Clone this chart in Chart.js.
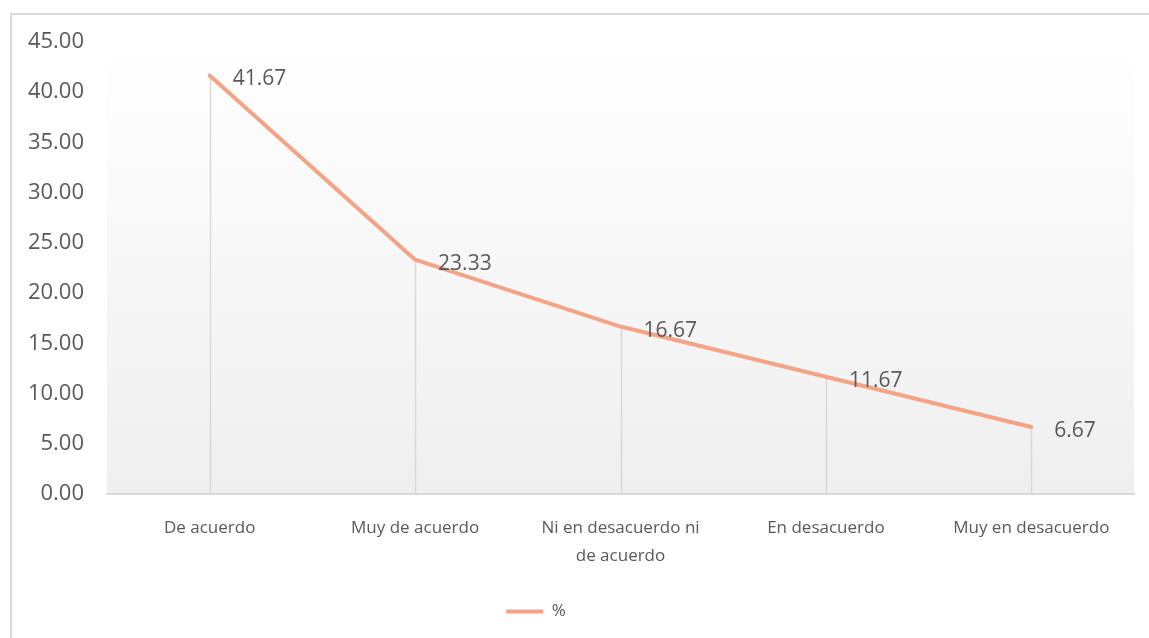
<!DOCTYPE html>
<html>
<head>
<meta charset="utf-8">
<script src="https://cdn.jsdelivr.net/npm/chart.js@4.4.1/dist/chart.umd.min.js"></script>
<style>
  html, body { margin:0; padding:0; background:#fff; overflow:hidden; }
  #frame { position:absolute; left:10px; top:13px; width:1400px; height:900px; border:2px solid #d9d9d9; box-sizing:border-box; }
  #wrap { position:absolute; left:0; top:0; width:1149px; height:638px; }
</style>
</head>
<body>
<div id="frame"></div>
<div id="wrap"><canvas id="c" width="1149" height="638"></canvas></div>
<script>
const categories = ["De acuerdo", "Muy de acuerdo", ["Ni en desacuerdo ni", "de acuerdo"], "En desacuerdo", "Muy en desacuerdo"];
const seriesName = "%";
const values = [41.67, 23.33, 16.67, 11.67, 6.67];
const yMin = 0, yMax = 45, yStep = 5;

const TEXT = '#595959';
const LINE = '#F3A486';
const FONT = "'Open Sans', 'DejaVu Sans', sans-serif";

const bgPlugin = {
  id: 'plotBg',
  beforeDraw(chart) {
    const a = chart.chartArea, ctx = chart.ctx;
    const g = ctx.createLinearGradient(0, a.top, 0, a.bottom);
    g.addColorStop(0, '#ffffff');
    g.addColorStop(1, '#efefef');
    ctx.save();
    ctx.fillStyle = g;
    ctx.fillRect(a.left, a.top, a.right - a.left, a.bottom - a.top);
    ctx.restore();
  }
};

const dropPlugin = {
  id: 'dropLines',
  beforeDatasetsDraw(chart) {
    const meta = chart.getDatasetMeta(0), ctx = chart.ctx, a = chart.chartArea;
    ctx.save();
    ctx.strokeStyle = '#d9d9d9';
    ctx.lineWidth = 1.5;
    meta.data.forEach(p => {
      ctx.beginPath();
      ctx.moveTo(Math.round(p.x) + 0.5, p.y);
      ctx.lineTo(Math.round(p.x) + 0.5, a.bottom);
      ctx.stroke();
    });
    ctx.restore();
  }
};

const labelPlugin = {
  id: 'dataLabels',
  afterDatasetsDraw(chart) {
    const meta = chart.getDatasetMeta(0), ctx = chart.ctx;
    const data = chart.data.datasets[0].data;
    ctx.save();
    ctx.fillStyle = TEXT;
    ctx.font = "21px " + FONT;
    ctx.textAlign = 'left';
    ctx.textBaseline = 'middle';
    meta.data.forEach((p, i) => {
      ctx.fillText(data[i].toFixed(2), p.x + 23, p.y + 4);
    });
    ctx.restore();
  }
};

const legendShift = {
  id: 'legendShift',
  afterLayout(chart) {
    if (chart.legend) chart.legend.right -= 62;
  }
};

new Chart(document.getElementById('c'), {
  type: 'line',
  data: {
    labels: categories,
    datasets: [{
      label: seriesName,
      data: values,
      borderColor: LINE,
      backgroundColor: LINE,
      borderWidth: 4,
      borderCapStyle: 'round',
      borderJoinStyle: 'round',
      pointRadius: 0,
      pointHoverRadius: 0,
      tension: 0,
      fill: false
    }]
  },
  options: {
    responsive: false,
    animation: false,
    devicePixelRatio: 1,
    layout: { padding: { top: 42, right: 15, left: 0, bottom: 8 } },
    plugins: {
      tooltip: { enabled: false },
      legend: {
        display: true,
        position: 'bottom',
        labels: {
          usePointStyle: true,
          pointStyle: 'line',
          pointStyleWidth: 37,
          boxWidth: 37,
          boxHeight: 4,
          color: TEXT,
          padding: 10,
          font: { family: FONT, size: 17 }
        }
      }
    },
    scales: {
      x: {
        offset: true,
        grid: { display: false, drawTicks: false },
        border: { display: true, color: '#d9d9d9', width: 2 },
        ticks: {
          color: TEXT,
          padding: 20,
          maxRotation: 0,
          autoSkip: false,
          font: { family: FONT, size: 17, lineHeight: 1.65 }
        },
        afterFit(s) { s.height = 99; }
      },
      y: {
        min: yMin, max: yMax,
        grid: { display: false, drawTicks: false },
        border: { display: false },
        ticks: {
          stepSize: yStep,
          color: TEXT,
          padding: 23,
          font: { family: FONT, size: 22 },
          callback: v => Number(v).toFixed(2)
        },
        afterFit(s) { s.width = 107; }
      }
    }
  },
  plugins: [bgPlugin, dropPlugin, labelPlugin, legendShift]
});
</script>
</body>
</html>
